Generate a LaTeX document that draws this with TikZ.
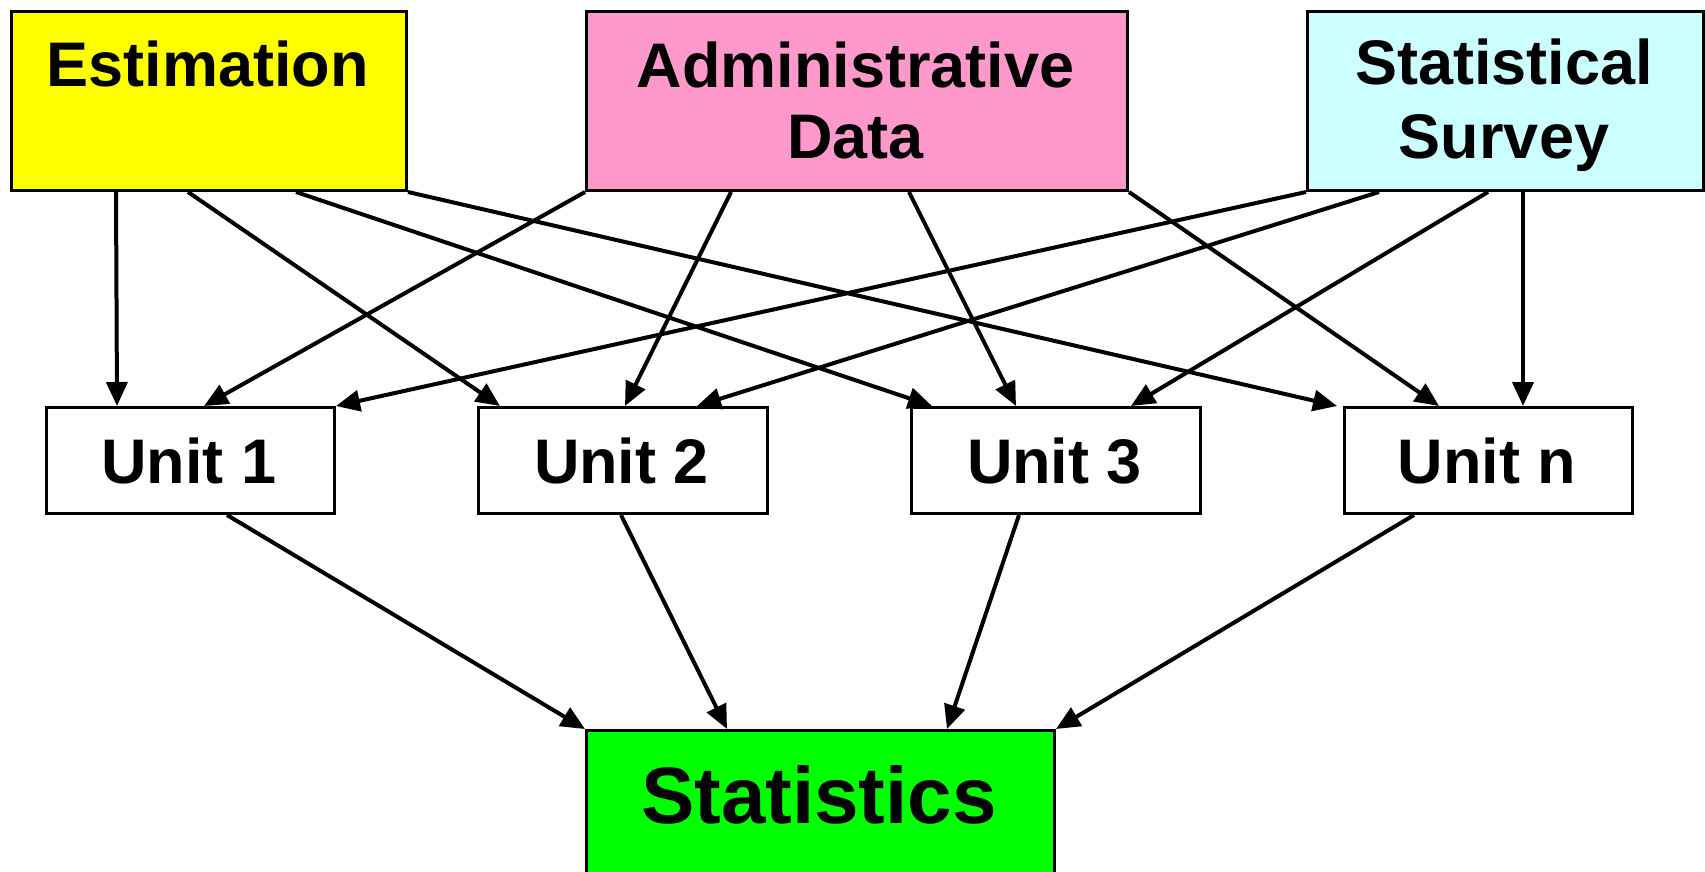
\documentclass[tikz,border=0pt]{standalone}
\usepackage{fontspec}
\setmainfont{Liberation Sans}
\usetikzlibrary{arrows.meta}
\definecolor{estyellow}{HTML}{FFFF00}
\definecolor{admpink}{HTML}{FF99CC}
\definecolor{srvcyan}{HTML}{CCFFFF}
\definecolor{stagreen}{HTML}{00FF00}
\begin{document}
\begin{tikzpicture}[x=1pt,y=-1pt,
  box/.style={draw=black, line width=3pt, inner sep=0pt, anchor=north west},
  lbl/.style={font=\fontsize{63}{70}\selectfont\bfseries, anchor=base, inner sep=0pt},
  biglbl/.style={font=\fontsize{80}{88}\selectfont\bfseries, anchor=base, inner sep=0pt},
  arr/.style={line width=4pt, -{Triangle[length=24pt,width=21pt]}}]
\useasboundingbox (0,0) rectangle (1705,871);
\clip (0,0) rectangle (1705,871);
\fill[white] (0,0) rectangle (1705,871);

% top row
\node[box, fill=estyellow, minimum width=395pt, minimum height=179pt] (est) at (10,10) {};
\node[box, fill=admpink,   minimum width=541pt, minimum height=179pt] (adm) at (585,10) {};
\node[box, fill=srvcyan,   minimum width=396pt, minimum height=179pt] (srv) at (1306,10) {};
\node[lbl] (estT)  at (207.5,86) {Estimation};
\node[lbl] (admT1) at (855.5,87) {Administrative};
\node[lbl] (admT2) at (855.5,158) {Data};
\node[lbl] (srvT1) at (1504,84) {Statistical};
\node[lbl] (srvT2) at (1504,158) {Survey};

% units
\node[box, fill=white, minimum width=288pt, minimum height=106pt] (u1) at (45,406) {};
\node[box, fill=white, minimum width=289pt, minimum height=106pt] (u2) at (477,406) {};
\node[box, fill=white, minimum width=289pt, minimum height=106pt] (u3) at (910,406) {};
\node[box, fill=white, minimum width=288pt, minimum height=106pt] (un) at (1343,406) {};
\node[lbl] (u1T) at (189,483) {Unit 1};
\node[lbl] (u2T) at (621.5,483) {Unit 2};
\node[lbl] (u3T) at (1054.5,483) {Unit 3};
\node[lbl] (unT) at (1487,483) {Unit n};

% statistics
\node[box, fill=stagreen, minimum width=468pt, minimum height=200pt] (sta) at (585,729) {};
\node[biglbl] (staT) at (819,823) {Statistics};

% Estimation arrows
\draw[arr] ([xshift=106pt]est.south west) -- ([xshift=72pt]u1.north west);
\draw[arr] ([xshift=178pt]est.south west) -- ([xshift=23pt]u2.north west);
\draw[arr] ([xshift=286pt]est.south west) -- ([xshift=22pt]u3.north west);
\draw[arr] (est.south east) -- ([xshift=-6pt]un.north west);

% Administrative Data arrows
\draw[arr] (adm.south west) -- ([xshift=159pt]u1.north west);
\draw[arr] ([xshift=146pt]adm.south west) -- ([xshift=148pt]u2.north west);
\draw[arr] ([xshift=324pt]adm.south west) -- ([xshift=106pt]u3.north west);
\draw[arr] (adm.south east) -- ([xshift=96pt]un.north west);

% Statistical Survey arrows
\draw[arr] (srv.south west) -- (u1.north east);
\draw[arr] ([xshift=73pt]srv.south west) -- ([xshift=220pt]u2.north west);
\draw[arr] ([xshift=182pt]srv.south west) -- ([xshift=221pt]u3.north west);
\draw[arr] ([xshift=217pt]srv.south west) -- ([xshift=180pt]un.north west);

% Units to Statistics
\draw[arr] ([xshift=182pt]u1.south west) -- (sta.north west);
\draw[arr] ([xshift=144pt]u2.south west) -- ([xshift=142pt]sta.north west);
\draw[arr] ([xshift=109pt]u3.south west) -- ([xshift=362pt]sta.north west);
\draw[arr] ([xshift=71pt]un.south west) -- (sta.north east);
\end{tikzpicture}
\end{document}
